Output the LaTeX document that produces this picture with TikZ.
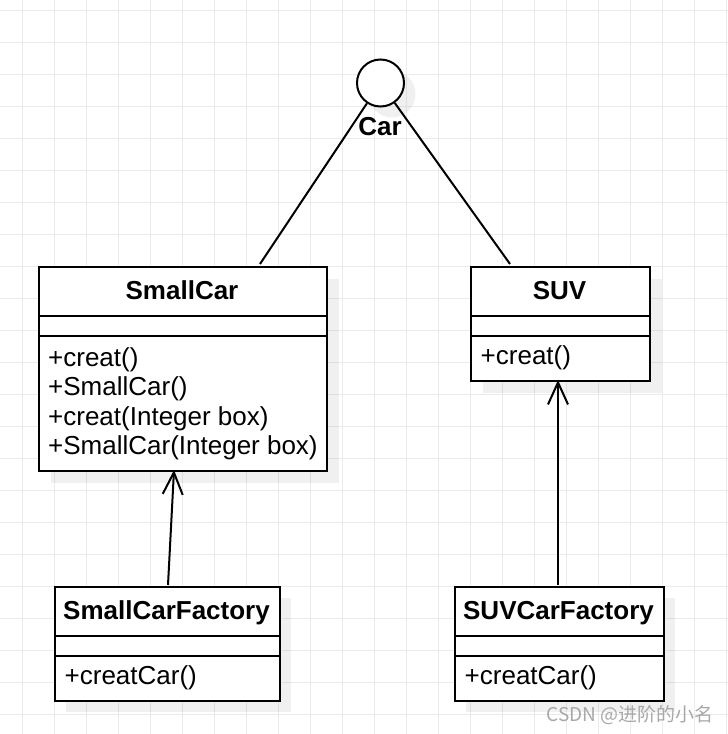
\documentclass[tikz,border=0pt]{standalone}
\usepackage{fontspec}
\setmainfont{Liberation Sans}
\newfontfamily\cjk{Noto Sans CJK SC}
\usetikzlibrary{arrows.meta}
\definecolor{gridc}{HTML}{EBEBEB}
\definecolor{wmc}{HTML}{A8A8A8}
\tikzset{
  gridline/.style={draw=gridc, line width=1pt},
  shadowbox/.style={fill=black, fill opacity=0.06},
  classbox/.style={draw=black, line width=2pt, fill=white, rectangle, inner sep=0pt, anchor=north west},
  divider/.style={draw=black, line width=2pt},
  title/.style={font=\fontsize{26}{29.5}\selectfont\bfseries, inner sep=0pt, anchor=base},
  member/.style={font=\fontsize{26}{29.5}\selectfont, inner sep=0pt, anchor=base west},
  conn/.style={draw=black, line width=2pt},
  dep/.style={conn, -{Straight Barb[length=22pt, width=20pt, line width=2pt]}},
}
\begin{document}
\begin{tikzpicture}[x=1pt, y=-1pt]
\useasboundingbox (0,0) rectangle (728,734);
% grid
\foreach \x in {22,54,...,726} \draw[gridline] (\x,0) -- (\x,734);
\foreach \y in {10,42,...,734} \draw[gridline] (0,\y) -- (728,\y);
% shadows
\fill[shadowbox] (392,94) circle (23.5);
\fill[shadowbox] (51,279) rectangle (339,483);
\fill[shadowbox] (483,279) rectangle (662,393);
\fill[shadowbox] (66,598) rectangle (291,712);
\fill[shadowbox] (466,598) rectangle (675,712);
% interface Car
\node[circle, draw=black, line width=2pt, fill=white, minimum size=47pt, inner sep=0pt] (car) at (380.5,83) {};
\node[title] (carlabel) at (380,135.5) {Car};
% SmallCar
\node[classbox, minimum width=288pt, minimum height=204pt] (smallcar) at (38,266) {};
\draw[divider] (38,316) -- (326,316);
\draw[divider] (38,336) -- (326,336);
\node[title] (smallcartitle) at (182,299.5) {SmallCar};
\node[member] (sc1) at (48,366) {+creat()};
\node[member] (sc2) at (48,395.5) {+SmallCar()};
\node[member] (sc3) at (48,425) {+creat(Integer box)};
\node[member] (sc4) at (48,454.5) {+SmallCar(Integer box)};
% SUV
\node[classbox, minimum width=179pt, minimum height=114pt] (suv) at (470,266) {};
\draw[divider] (470,316) -- (649,316);
\draw[divider] (470,336) -- (649,336);
\node[title] (suvtitle) at (559.5,299.5) {SUV};
\node[member] (suv1) at (480.5,364.5) {+creat()};
% SmallCarFactory
\node[classbox, minimum width=225pt, minimum height=114pt] (scf) at (54,586) {};
\draw[divider] (54,636) -- (279,636);
\draw[divider] (54,656) -- (279,656);
\node[title] (scftitle) at (166.5,619.5) {SmallCarFactory};
\node[member] (scf1) at (64.5,684.5) {+creatCar()};
% SUVCarFactory
\node[classbox, minimum width=209pt, minimum height=114pt] (suvf) at (454,586) {};
\draw[divider] (454,636) -- (663,636);
\draw[divider] (454,656) -- (663,656);
\node[title] (suvftitle) at (558.5,619.5) {SUVCarFactory};
\node[member] (suvf1) at (464.5,684.5) {+creatCar()};
% connectors
\coordinate (sctop) at (260,264);
\coordinate (suvtop) at (510,264);
\draw[conn] (car) -- (sctop);
\draw[conn] (car) -- (suvtop);
\coordinate (a1s) at (168,585);
\coordinate (a1e) at (174,470);
\coordinate (a2s) at (558,585);
\coordinate (a2e) at (558,380);
\draw[dep] (a1s) -- (a1e);
\draw[dep] (a2s) -- (a2e);
% watermark
\node[font=\cjk\fontsize{19}{21}\selectfont, text=wmc, anchor=east, inner sep=0pt] (wm) at (714,715) {CSDN @进阶的小名};
\end{tikzpicture}
\end{document}
